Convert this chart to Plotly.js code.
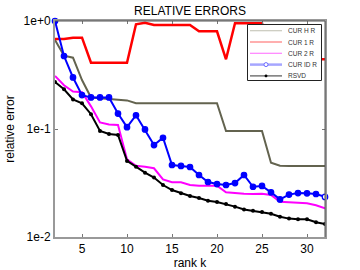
<!DOCTYPE html>
<html>
<head>
<meta charset="utf-8">
<script src="https://cdn.plot.ly/plotly-3.0.1.min.js"></script>
<style>html,body{margin:0;padding:0;background:#fff;}#chart{width:360px;height:270px;}</style>
</head>
<body>
<div id="chart"></div>
<script>
// ---- data ----
const rankK = [2,3,4,5,6,7,8,9,10,11,12,13,14,15,16,17,18,19,20,21,22,23,24,25,26,27,28,29,30,31,32];

const curH = [0.667,0.477,0.457,0.284,0.196,0.192,0.190,0.187,0.184,0.173,
              0.173,0.173,0.173,0.173,0.173,0.173,0.173,0.173,0.173,
              0.0958,0.0958,0.0958,0.0958,0.0958,
              0.0488,0.0457,0.0454,0.0454,0.0454,0.0454,0.0454];

const curOne = [0.681,0.681,0.701,0.701,
                0.411,0.411,0.411,0.411,0.411,
                0.932,0.965,
                0.918,0.918,0.918,0.918,0.918,
                0.803,0.803,0.803,
                0.442,
                0.952,0.952,0.952,0.952,
                0.443,0.443,0.443,0.443,0.443,0.443,0.443];

const curTwo = [0.310,0.254,0.222,0.219,0.162,0.115,0.110,0.109,0.0525,0.0457,
                0.0447,0.0433,0.0342,0.0321,0.0321,0.0303,0.0299,0.0299,0.0299,0.0259,
                0.0254,0.0252,0.0250,0.0252,0.0245,0.0212,0.0210,0.0208,0.0205,0.0197,0.0184];

const curId = [1.0,0.474,0.300,0.206,0.196,0.196,0.196,0.139,0.104,0.134,
               0.099,0.071,0.083,0.0464,0.0455,0.0445,0.0375,0.0323,0.0309,0.0303,
               0.0316,0.0375,0.0292,0.0297,0.0259,0.0223,0.0247,0.0255,0.0254,0.0250,0.0235];

const rsvd = [0.272,0.233,0.188,0.173,0.137,0.0958,0.0898,0.088,0.0506,0.0447,
              0.0394,0.0355,0.0303,0.0272,0.0254,0.0240,0.0230,0.0217,0.0211,0.0202,
              0.0191,0.0180,0.0175,0.0170,0.0164,0.0154,0.0148,0.0146,0.0146,0.0137,0.0132];

const seriesNames = ['CUR H R','CUR 1 R','CUR 2 R','CUR ID R','RSVD'];
const xTickVals = [5,10,15,20,25,30];
const yTickVals = [1,0.1,0.01];
const yTickText = ['1e+0','1e-1','1e-2'];
const titleText = 'RELATIVE ERRORS';
const xTitle = 'rank k';
const yTitle = 'relative error';

// ---- styles ----
const FONT = 'Liberation Sans, Arial, Helvetica, sans-serif';
const lineColors = ['#63634f','#ff0000','#ff00ff','#0000ff','#000000'];
const legendColors = ['#c9c9bd','#ff7a7a','#ff80ff','#a6a6ff','#555555'];

const traces = [
  {x: rankK, y: curH, mode:'lines', line:{color:lineColors[0], width:2}, showlegend:false, name:seriesNames[0]},
  {x: rankK, y: curOne, mode:'lines', line:{color:lineColors[1], width:2.5}, showlegend:false, name:seriesNames[1]},
  {x: rankK, y: curTwo, mode:'lines', line:{color:lineColors[2], width:2}, showlegend:false, name:seriesNames[2]},
  {x: rankK, y: curId, mode:'lines+markers', line:{color:lineColors[3], width:2},
   marker:{size:5.5, color: curId.map((v,i)=> i===curId.length-1 ? '#ffffff' : lineColors[3]),
           line:{color:lineColors[3], width:1.2}},
   cliponaxis:false, showlegend:false, name:seriesNames[3]},
  {x: rankK, y: rsvd, mode:'lines+markers', line:{color:lineColors[4], width:2},
   marker:{size:4, color:lineColors[4]}, cliponaxis:false, showlegend:false, name:seriesNames[4]}
];

// plot-area geometry (pixels) for the hand-built legend box
const M = {l:55, r:35, t:21, b:33};
const PW = 360 - M.l - M.r, PH = 270 - M.t - M.b;
const px = v => (v - M.l) / PW;
const py = v => (270 - M.b - v) / PH;

const shapes = [
  {type:'line', xref:'paper', yref:'paper', x0:0, x1:1, y0:1, y1:1, line:{color:'#555', width:1}, layer:'above'},
  {type:'line', xref:'paper', yref:'paper', x0:1, x1:1, y0:0, y1:1, line:{color:'#555', width:1}, layer:'above'},
  {type:'rect', xref:'paper', yref:'paper', x0:px(247.5), x1:px(321.5), y0:py(80.5), y1:py(24.5),
   fillcolor:'#ffffff', line:{color:'#222', width:1}, layer:'above'}
];
const annotations = [];
seriesNames.forEach((name, i) => {
  const yy = 30.7 + 11.3 * i;
  shapes.push({type:'line', xref:'paper', yref:'paper', x0:px(250), x1:px(282), y0:py(yy), y1:py(yy),
               line:{color:legendColors[i], width: i===3 ? 2.5 : 1.2}, layer:'above'});
  if (i === 3) {
    shapes.push({type:'circle', xref:'paper', yref:'paper', x0:px(264), x1:px(268), y0:py(yy+2), y1:py(yy-2),
                 line:{color:'#6a6aff', width:1}, fillcolor:'#ffffff', layer:'above'});
  }
  if (i === 4) {
    shapes.push({type:'circle', xref:'paper', yref:'paper', x0:px(264.8), x1:px(267.2), y0:py(yy+1.2), y1:py(yy-1.2),
                 line:{color:'#000', width:0.5}, fillcolor:'#000', layer:'above'});
  }
  annotations.push({xref:'paper', yref:'paper', x:px(285.5), y:py(yy), xanchor:'left', yanchor:'middle',
                    text:name, showarrow:false, font:{family:FONT, size:6.5, color:'#333'}});
});

const layout = {
  width:360, height:270,
  margin:M,
  paper_bgcolor:'#ffffff', plot_bgcolor:'#ffffff',
  showlegend:false,
  font:{family:FONT, size:12, color:'#000'},
  title:{text:titleText, font:{family:FONT, size:12, color:'#000'}, x:0.5, xref:'paper', y:0.96, yref:'container', yanchor:'middle'},
  xaxis:{range:[2,32], tickvals:xTickVals, ticks:'inside', ticklen:3, tickcolor:'#777',
         showline:true, linecolor:'#999', linewidth:2, mirror:'ticks', showgrid:false, zeroline:false,
         tickfont:{family:FONT, size:12, color:'#000'},
         title:{text:xTitle, font:{family:FONT, size:12, color:'#000'}, standoff:4}},
  yaxis:{type:'log', range:[-2,0], tickvals:yTickVals, ticktext:yTickText, ticks:'inside', ticklen:3, tickcolor:'#777',
         showline:true, linecolor:'#999', linewidth:2, mirror:'ticks', showgrid:false, zeroline:false,
         tickfont:{family:FONT, size:12, color:'#000'},
         title:{text:yTitle, font:{family:FONT, size:12, color:'#000'}, standoff:6}},
  shapes:shapes,
  annotations:annotations
};

Plotly.newPlot('chart', traces, layout, {displayModeBar:false, staticPlot:true});
</script>
</body>
</html>
